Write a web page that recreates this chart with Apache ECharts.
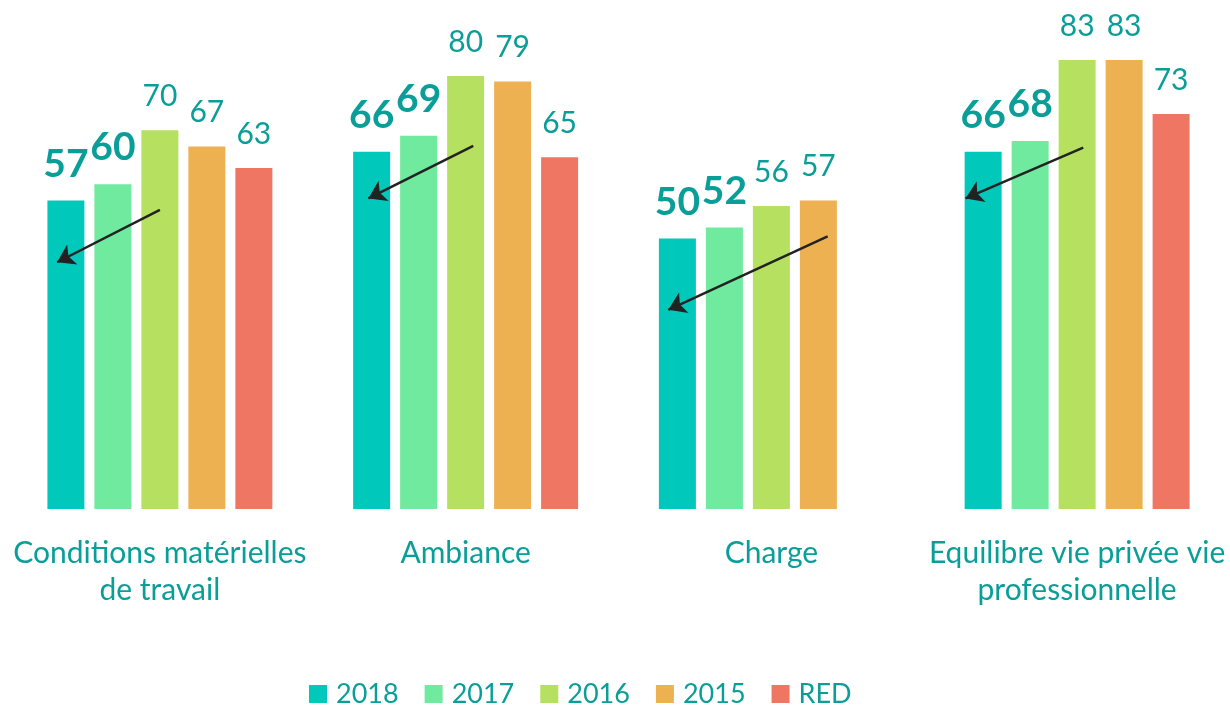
<!DOCTYPE html>
<html>
<head>
<meta charset="utf-8">
<script src="https://cdn.jsdelivr.net/npm/echarts@6/dist/echarts.min.js"></script>
<style>
  html, body { margin: 0; padding: 0; background: #fff; }
  #chart { width: 1230px; height: 705px; }
</style>
</head>
<body>
<div id="chart"></div>
<script>
// Survey scores per theme, by year and against the RED reference
const categories = ['Conditions matérielles\nde travail', 'Ambiance', 'Charge', 'Equilibre vie privée vie\nprofessionnelle'];
const seriesNames = ['2018', '2017', '2016', '2015', 'RED'];
const values2018 = [57, 66, 50, 66];
const values2017 = [60, 69, 52, 68];
const values2016 = [70, 80, 56, 83];
const values2015 = [67, 79, 57, 83];
const valuesRED  = [63, 65, null, 73];

// Trend arrows: [category index + offset, score] from -> to
const arrowFrom = [[0.00, 55.3], [1.025, 67.1], [2.184, 50.4], [3.02, 66.8]];
const arrowTo   = [[-0.336, 45.6], [0.682, 57.4], [1.663, 36.8], [2.635, 57.4]];

const colors = ['#00C8BA', '#6FEA9E', '#B6E05F', '#EEB152', '#EF7662'];
const teal = '#0A9E99';
const font = 'Lato';

const allValues = [values2018, values2017, values2016, values2015, valuesRED];

const barSeries = seriesNames.map((name, i) => ({
  name: name,
  type: 'bar',
  data: allValues[i],
  barWidth: 37,
  barGap: '27%',
  itemStyle: { color: colors[i] },
  label: {
    show: true,
    position: 'top',
    distance: i < 2 ? 17 : 19,
    color: teal,
    fontFamily: font,
    fontSize: i < 2 ? 39 : 30,
    fontWeight: i < 2 ? 'bold' : 'normal'
  }
}));

const arrowData = arrowFrom.map((p, k) => ({ coords: [p, arrowTo[k]] }));

const option = {
  animation: false,
  color: colors,
  grid: { left: 7, right: 0, top: 22, bottom: 196, containLabel: false },
  legend: {
    data: seriesNames,
    top: 680,
    left: 309,
    padding: 0,
    itemWidth: 18,
    itemHeight: 18,
    itemGap: 26,
    icon: 'rect',
    textStyle: { color: teal, fontFamily: font, fontSize: 27, lineHeight: 28, padding: [0, 0, 0, 4] }
  },
  xAxis: [{
    type: 'category',
    data: categories,
    axisLine: { show: false },
    axisTick: { show: false },
    axisLabel: {
      color: teal,
      fontFamily: font,
      fontSize: 30,
      lineHeight: 37,
      margin: 26,
      interval: 0
    }
  }, {
    type: 'value',
    min: -0.5,
    max: 3.5,
    show: false
  }],
  yAxis: {
    type: 'value',
    min: 0,
    max: 90,
    show: false,
    splitLine: { show: false }
  },
  series: barSeries.concat([{
    type: 'lines',
    coordinateSystem: 'cartesian2d',
    xAxisIndex: 1,
    yAxisIndex: 0,
    symbol: ['none', 'arrow'],
    symbolSize: [14, 17],
    lineStyle: { color: '#222', width: 2.5, opacity: 1 },
    itemStyle: { color: '#222' },
    data: arrowData,
    z: 10
  }])
};

const chart = echarts.init(document.getElementById('chart'), null, { renderer: 'canvas' });
chart.setOption(option);
</script>
</body>
</html>
